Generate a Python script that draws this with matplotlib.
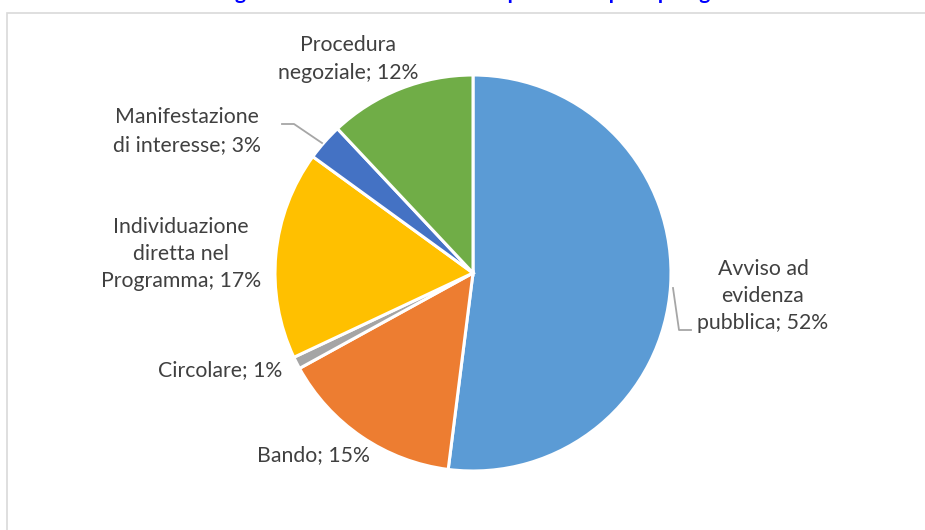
import matplotlib
matplotlib.use("Agg")
import matplotlib.pyplot as plt
from matplotlib.patches import Rectangle

# Data
categories = ["Avviso ad\nevidenza\npubblica", "Bando", "Circolare",
              "Individuazione\ndiretta nel\nProgramma", "Manifestazione\ndi interesse",
              "Procedura\nnegoziale"]
shares = [52, 15, 1, 17, 3, 12]
colors = ["#5B9BD5", "#ED7D31", "#A5A5A5", "#FFC000", "#4472C4", "#70AD47"]
title_text = "Figura 12 – Distribuzione delle procedure per tipologia"

# Layout (pixel coordinates, y from top)
W, H = 925, 530
center_px = (473, 273)
radius_px = 198
label_pos = [(763, 296), (313, 455), (220, 370), (181, 254), (187, 131), (348, 59)]

plt.rcParams['font.family'] = ['Lato', 'DejaVu Sans']
fig = plt.figure(figsize=(W / 100, H / 100), dpi=100)
ax = fig.add_axes([0, 0, 1, 1])

# chart border
ax.add_patch(Rectangle((7, -5), W, H - 13 + 5, fill=False, edgecolor="#D9D9D9", lw=1.2))

ax.pie(shares, colors=colors, startangle=90, counterclock=False,
       center=(center_px[0], H - center_px[1]), radius=radius_px,
       wedgeprops=dict(edgecolor="white", linewidth=2.2), frame=True)
ax.set_xlim(0, W)
ax.set_ylim(0, H)
ax.set_aspect('equal')
ax.axis('off')

for cat, val, (x, y) in zip(categories, shares, label_pos):
    ax.text(x, H - y, f"{cat}; {val}%", ha='center', va='center',
            fontsize=15.3, color="#404040", linespacing=1.45)

# leader lines
ax.plot([282, 294, 322], [H - 124, H - 124, H - 143], color="#A6A6A6", lw=1.3)
ax.plot([673, 679, 691], [H - 288, H - 330, H - 330], color="#A6A6A6", lw=1.3)

# title (clipped at top, as in the reference)
ax.text(472, H + 1, title_text, ha='center', va='baseline', fontsize=15,
        fontweight='bold', color="#0000FF", clip_on=False)

fig.savefig("out.png", dpi=100)
